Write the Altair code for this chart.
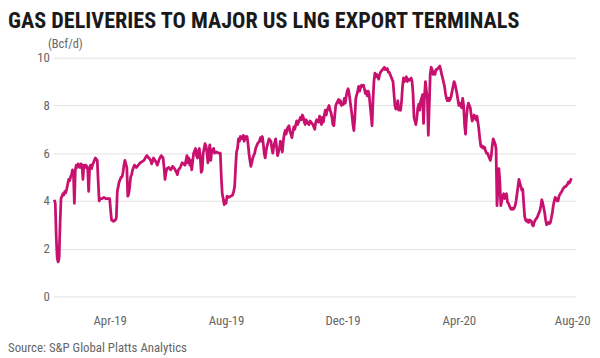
import altair as alt
import pandas as pd

title_text = "GAS DELIVERIES TO MAJOR US LNG EXPORT TERMINALS"
unit_label = "(Bcf/d)"
source_text = "Source: S&P Global Platts Analytics"
start_date = "2019-02-01"

# day offsets from start_date
days = [
    1, 2, 3, 4, 5, 6, 7, 8, 9, 10, 11, 12, 13, 14,
    16, 17, 18, 19, 20, 21, 22, 23, 24, 25, 26, 27, 28, 29, 30, 31, 32, 33, 34, 35, 36, 37, 38, 39, 40, 41, 42, 43, 44,
    46, 47, 48, 49, 51, 53, 55, 57, 59, 60, 61, 63, 65, 66, 67, 68, 69, 70, 71, 72, 73, 74, 75,
    77, 78, 79, 80, 81, 82, 83, 84, 85, 87, 89, 91, 93, 95, 97, 98, 100, 102, 103, 105,
    108, 109, 111, 113, 115, 116, 117, 118, 119, 121, 123, 125, 127, 129, 130, 131, 133, 135,
    138, 139, 140, 141, 142, 143, 144, 145, 147, 149, 150, 151, 152, 153, 154, 155, 156, 157, 158, 159, 160, 161, 162, 163, 164, 165, 166,
    168, 169, 171, 173, 175, 176, 177, 178, 179, 180, 181, 182, 184, 186, 188, 189, 190, 191, 192, 193, 194, 195, 196,
    198, 199, 200, 201, 202, 203, 204, 205, 206, 207, 208, 209, 210, 211, 212, 214, 216, 217, 218, 219, 220, 221, 222, 223, 224, 226,
    228, 229, 230, 231, 233, 235, 237, 238, 239, 240, 241, 242, 243, 244, 245, 246, 247, 248, 249, 250, 251, 252, 253, 255, 256, 257,
    259, 260, 261, 262, 263, 264, 265, 266, 268, 269, 270, 272, 273, 274, 275, 276, 278, 279, 280, 281, 282, 283, 284, 285, 286, 287,
    289, 290, 291, 292, 293, 294, 295, 296, 297, 299, 300, 301, 302, 304, 305, 306, 307, 308, 309, 310, 311, 312, 313, 314, 315, 316, 317,
    319, 320, 321, 322, 323, 324, 325, 326, 327, 328, 329, 330, 331, 332, 333, 334, 335, 336, 337, 338, 339, 340, 341, 342, 343, 344, 345, 346, 347, 348,
    350, 351, 352, 353, 354, 355, 356, 357, 358, 359, 360, 361, 362, 363, 364, 365, 366, 367, 368, 369, 370, 371, 372, 373, 374, 375, 376, 377, 378,
    380, 381, 382, 383, 384, 385, 386, 387, 388, 389, 390, 391, 392, 393, 394, 395, 396, 397, 398, 399, 400, 401, 402, 403, 404, 405, 406, 407, 408,
    410, 411, 412, 413, 414, 415, 416, 417, 418, 419, 420, 421, 422, 423, 424, 425, 426, 427, 428, 429, 430, 431, 432, 433, 434, 435, 436, 437, 438, 439,
    441, 442, 443, 444, 445, 446, 447, 448, 449, 450, 451, 452, 453, 454, 455, 456, 457, 458, 459, 460, 461, 462, 463, 464, 465, 466, 467, 468, 469,
    471, 472, 473, 474, 475, 476, 477, 478, 479, 480, 481, 482, 483, 484, 485, 486, 487, 488, 489, 490, 491, 492, 493, 494, 495, 496, 497, 498, 499,
    501, 502, 503, 504, 505, 506, 507, 508, 509, 510, 511, 512, 513, 514, 515, 516, 517, 518, 519, 520, 521, 522, 523, 524, 525, 526, 527, 528, 529, 530,
    532, 533, 534, 535, 536, 537, 538, 539, 540, 541, 542, 543,
]

# deliveries, Bcf/d
values = [
    4.05, 3.9, 2.5, 1.6, 1.45, 1.6, 3.0, 4.1, 4.2, 4.3, 4.25, 4.4, 4.35, 4.5,
    4.9, 4.85, 5.0, 5.1, 5.3, 5.2, 3.9, 5.3, 5.5, 5.4, 5.55, 5.5, 5.4, 5.55, 5.5, 4.9, 5.5, 5.4, 5.5, 5.45, 5.3, 4.4, 5.4, 5.5, 5.35, 5.5, 5.6, 5.7, 5.8,
    5.7, 4.8, 4.0, 4.1, 4.1, 4.15, 4.1, 4.1, 4.1, 3.6, 3.2, 3.15, 3.2, 3.3, 4.4, 4.6, 4.8, 4.9, 5.0, 5.0, 5.2, 5.5, 5.7,
    5.4, 4.2, 4.3, 4.6, 5.0, 5.1, 5.3, 5.4, 5.5, 5.4, 5.5, 5.6, 5.65, 5.7, 5.85, 5.9, 5.8, 5.7, 5.55, 5.8,
    5.6, 5.5, 5.75, 5.9, 5.8, 5.4, 4.9, 5.2, 5.35, 5.4, 5.3, 5.45, 5.35, 5.2, 5.1, 5.3, 5.4, 5.6,
    5.5, 5.7, 5.9, 5.6, 5.8, 5.5, 5.7, 5.3, 6.0, 6.2, 5.9, 5.8, 6.1, 6.2, 5.8, 5.2, 5.3, 6.0, 6.2, 6.4, 6.3, 6.0, 5.6, 6.1, 6.35, 5.7, 6.1,
    6.2, 6.0, 6.05, 6.0, 6.0, 5.0, 4.3, 4.1, 3.85, 4.0, 3.9, 4.2, 4.15, 4.2, 4.25, 4.4, 4.6, 5.4, 6.05, 6.2, 6.6, 6.5, 6.7,
    6.6, 6.75, 6.5, 6.7, 6.6, 6.7, 6.4, 6.0, 5.7, 5.45, 5.6, 5.8, 5.9, 6.0, 6.2, 6.4, 6.5, 6.65, 6.5, 6.7, 6.4, 6.0, 5.8, 6.1, 6.3, 6.6,
    6.5, 6.2, 6.0, 6.3, 6.6, 5.9, 6.2, 6.5, 6.3, 6.05, 6.5, 6.8, 6.95, 6.8, 7.0, 7.1, 7.15, 6.9, 6.8, 6.65, 6.9, 7.1, 7.0, 7.35, 7.2, 7.3,
    7.5, 7.4, 7.6, 7.5, 7.3, 7.2, 7.4, 7.3, 7.2, 7.35, 7.3, 7.2, 7.1, 7.0, 7.3, 7.4, 7.3, 7.55, 7.4, 7.2, 7.5, 7.3, 7.6, 7.8, 7.6, 7.8,
    8.0, 7.8, 7.7, 7.5, 7.2, 7.15, 7.6, 8.0, 8.1, 8.25, 8.1, 8.2, 8.0, 8.05, 8.3, 8.1, 8.4, 8.6, 8.7, 8.5, 8.2, 7.9, 7.6, 7.2, 6.95, 7.5, 8.3,
    8.6, 8.8, 8.6, 8.75, 8.85, 8.8, 8.85, 8.7, 8.5, 8.6, 8.4, 8.6, 8.45, 8.0, 7.6, 7.15, 8.2, 9.0, 9.35, 9.2, 9.3, 9.2, 9.1, 9.3, 9.4, 9.45, 9.5, 9.55, 9.6, 9.5,
    9.55, 9.4, 9.4, 9.3, 9.2, 9.1, 9.0, 8.5, 8.0, 7.85, 7.9, 8.2, 7.8, 7.9, 7.8, 8.2, 8.8, 9.15, 9.0, 9.1, 9.2, 9.0, 9.1, 9.05, 9.1, 9.15, 9.0, 8.5, 7.5,
    7.2, 7.5, 7.9, 8.05, 7.8, 8.2, 8.3, 8.45, 7.25, 8.4, 9.0, 8.6, 8.3, 6.75, 8.0, 9.3, 9.6, 9.5, 9.3, 9.4, 9.3, 9.5, 9.5, 9.55, 9.6, 9.65, 9.5, 9.3, 9.15,
    8.8, 8.5, 8.3, 8.2, 8.3, 8.2, 8.25, 8.4, 8.6, 8.8, 9.0, 8.9, 8.7, 8.5, 8.25, 8.0, 8.1, 8.0, 7.9, 8.3, 8.0, 7.2, 6.8, 7.5, 7.9, 8.1, 8.0, 7.9, 7.6, 7.35,
    7.6, 7.5, 7.4, 7.55, 7.3, 7.0, 6.6, 6.3, 6.25, 6.3, 6.2, 6.25, 6.1, 6.0, 6.0, 5.9, 5.8, 5.7, 5.9, 6.3, 6.6, 6.5, 6.4, 6.2, 3.8, 4.5, 5.35, 4.8, 3.8,
    4.2, 4.3, 4.1, 4.2, 4.3, 3.95, 3.9, 3.8, 3.7, 3.65, 3.7, 3.65, 3.7, 3.8, 4.0, 4.3, 4.6, 4.9, 4.75, 4.6, 4.45, 4.5, 3.9, 3.35, 3.2, 3.15, 3.2, 3.1, 3.2,
    3.15, 3.0, 2.95, 3.1, 3.2, 3.25, 3.3, 3.4, 3.5, 3.6, 3.8, 4.05, 3.9, 3.7, 3.5, 3.2, 3.0, 3.05, 3.1, 3.05, 3.1, 3.3, 3.5, 3.8, 4.0, 4.15, 4.1, 4.0, 4.0, 4.2,
    4.35, 4.4, 4.5, 4.55, 4.6, 4.6, 4.65, 4.7, 4.8, 4.75, 4.85, 4.95,
]

x_ticks = [(2019, 4), (2019, 8), (2019, 12), (2020, 4), (2020, 8)]
y_ticks = [0, 2, 4, 6, 8, 10]

n = min(len(days), len(values))
dates = (pd.Timestamp(start_date) + pd.to_timedelta(days[:n], unit="D")).strftime("%Y-%m-%d")
df = pd.DataFrame({"date": list(dates), "value": values[:n]})

FONT = "Liberation Sans Narrow, Roboto Condensed, DejaVu Sans Condensed, Roboto, sans-serif"
W, H = 529, 242

line = alt.Chart(df).mark_line(color="#c8106e", strokeWidth=2.8, strokeJoin="round").encode(
    x=alt.X(
        "date:T",
        scale=alt.Scale(
            type="utc",
            domain=[alt.DateTime(year=2019, month=2, date=1, utc=True),
                    alt.DateTime(year=2020, month=8, date=1, utc=True)],
        ),
        axis=alt.Axis(
            title=None,
            values=[alt.DateTime(year=y, month=m, date=1, utc=True) for y, m in x_ticks],
            labelExpr="utcFormat(datum.value, '%b-%y')",
            grid=False,
            domain=False,
            ticks=False,
            tickSize=0,
            labelPadding=18,
            labelFontSize=13,
            labelColor="#666666",
            labelFont=FONT,
            labelFlush=True,
            labelFlushOffset=15,
        ),
    ),
    y=alt.Y(
        "value:Q",
        scale=alt.Scale(domain=[0, 10], nice=False),
        axis=alt.Axis(
            title=unit_label,
            titleAngle=0,
            titleAlign="left",
            titleBaseline="bottom",
            titleX=-6,
            titleY=-7,
            titleFont=FONT,
            titleFontSize=12.5,
            titleFontWeight="normal",
            titleColor="#666666",
            values=y_ticks,
            grid=True,
            gridColor="#e2e2e2",
            gridWidth=1,
            domain=False,
            ticks=False,
            tickSize=0,
            labelPadding=4,
            labelFontSize=13,
            labelColor="#666666",
            labelFont=FONT,
        ),
    ),
)

src = alt.Chart(pd.DataFrame({"t": [source_text]})).mark_text(
    align="left", baseline="middle", font=FONT, fontSize=13, color="#666666"
).encode(
    x=alt.value(-46),
    y=alt.value(H + 52),
    text="t:N",
)

chart = alt.layer(line, src).properties(
    width=W,
    height=H,
    title=alt.TitleParams(
        text=title_text,
        anchor="start",
        font=FONT,
        fontSize=22.5,
        fontWeight="bold",
        color="#1a1a1a",
        offset=6,
    ),
    autosize=alt.AutoSizeParams(type="none"),
    padding={"left": 46, "top": 48, "right": 17, "bottom": 58},
).configure_view(stroke=None)

chart.save("out.html", embed_options={"renderer": "svg", "actions": False})
